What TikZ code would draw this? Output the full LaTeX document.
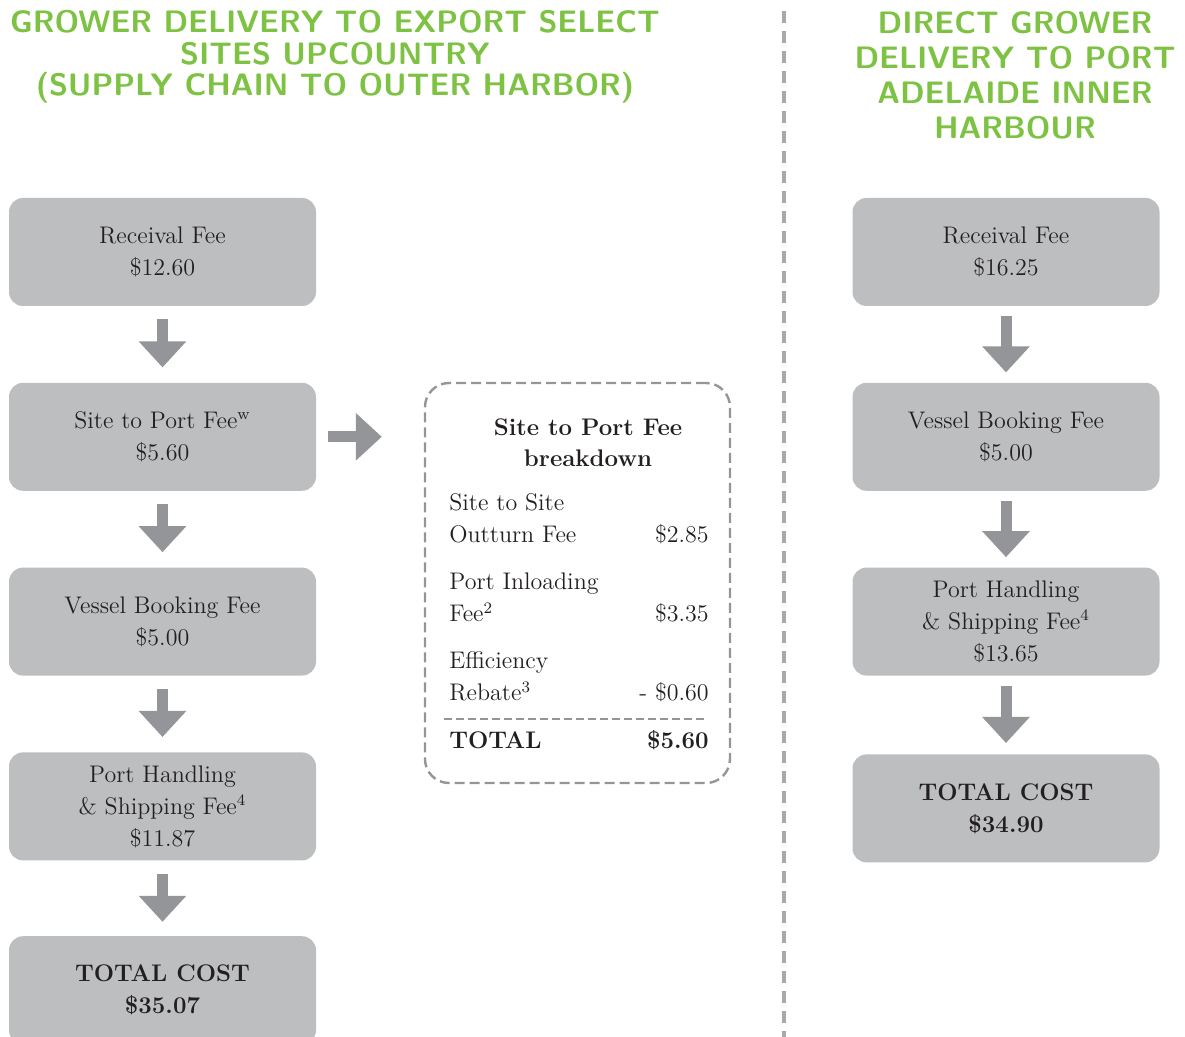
\documentclass[tikz,border=0pt]{standalone}
\usepackage{xcolor}
\definecolor{headGreen}{HTML}{7DC242}
\definecolor{boxGrey}{HTML}{BCBEC0}
\definecolor{arrowGrey}{HTML}{939598}
\definecolor{lineGrey}{HTML}{A7A9AC}
\definecolor{textDark}{HTML}{231F20}
\usepackage{tikz}
\usetikzlibrary{positioning,arrows.meta}
\tikzset{%
  feeBox/.style={%
    rectangle,
    rounded corners=7pt,
    fill=boxGrey,
    text=textDark,
    minimum width=153.5pt,
    minimum height=54pt,
    align=center,
    font=\fontsize{12}{16}\selectfont
  },
  flowArrow/.style={%
    -{Triangle[width=23pt,length=13pt]},
    line width=5.5pt,
    color=arrowGrey
  },
  headingText/.style={%
    text=headGreen,
    align=center,
    inner sep=0pt
  },
  breakdownBox/.style={%
    rectangle,
    rounded corners=12pt,
    draw=arrowGrey,
    line width=1.2pt,
    dash pattern=on 5pt off 2.5pt,
    minimum width=152.5pt,
    minimum height=200pt
  },
  itemLeft/.style={%
    anchor=west,
    inner sep=0pt,
    text=textDark,
    text height=8.5pt,
    text depth=2.5pt,
    font=\fontsize{12}{16}\selectfont
  },
  itemRight/.style={%
    itemLeft,
    anchor=east
  },
  sepLine/.style={%
    draw=arrowGrey,
    line width=1pt,
    dash pattern=on 4pt off 2pt
  },
  divider/.style={%
    draw=lineGrey,
    line width=2pt,
    dash pattern=on 6pt off 4pt
  }
}

\begin{document}
\begin{tikzpicture}[x=0.5pt,y=-0.5pt]
  \useasboundingbox (0,0) rectangle (1185,1037);

  % headings
  \node[headingText, font=\sffamily\bfseries\fontsize{15.5}{15.75}\selectfont] (headA) at (335,57)
    {GROWER DELIVERY TO EXPORT SELECT\\SITES UPCOUNTRY\\(SUPPLY CHAIN TO OUTER HARBOR)};
  \node[headingText, font=\sffamily\bfseries\fontsize{15.5}{17.5}\selectfont] (headB) at (1015,75.5)
    {DIRECT GROWER\\DELIVERY TO PORT\\ADELAIDE INNER\\HARBOUR};

  % divider
  \coordinate (divTop) at (784,11);
  \coordinate (divBot) at (784,1037);
  \draw[divider] (divTop) -- (divBot);

  % left column
  \node[feeBox] (recvA) at (162.5,252) {Receival Fee\\\$12.60};
  \node[feeBox, below=38pt of recvA] (siteA) {Site to Port Fee\textsuperscript{w}\\\$5.60};
  \node[feeBox, below=38pt of siteA] (vesselA) {Vessel Booking Fee\\\$5.00};
  \node[feeBox, below=38pt of vesselA] (portA) {Port Handling\\\& Shipping Fee\textsuperscript{4}\\\$11.87};
  \node[feeBox, below=37.5pt of portA, font=\bfseries\fontsize{12}{16}\selectfont] (totalA) {TOTAL COST\\\$35.07};

  \draw[flowArrow, shorten <=6.5pt, shorten >=7.5pt] (recvA) -- (siteA);
  \draw[flowArrow, shorten <=6.5pt, shorten >=7.5pt] (siteA) -- (vesselA);
  \draw[flowArrow, shorten <=6.5pt, shorten >=7.5pt] (vesselA) -- (portA);
  \draw[flowArrow, shorten <=6.5pt, shorten >=7pt] (portA) -- (totalA);

  % breakdown of site to port fee
  \node[breakdownBox] (brk) at (577.5,583) {};
  \draw[flowArrow, shorten <=6pt, shorten >=21pt] (siteA) -- (siteA -| brk.west);

  \node[align=center, text=textDark, inner sep=0pt, font=\bfseries\fontsize{12}{15.5}\selectfont] (brkTitle) at (588,442.5)
    {Site to Port Fee\\breakdown};
  \node[itemLeft] (outA) at (449,505) {Site to Site};
  \node[itemLeft] (outB) at (449,537) {Outturn Fee};
  \node[itemRight] (outVal) at (709,537) {\$2.85};
  \node[itemLeft] (inA) at (449,584) {Port Inloading};
  \node[itemLeft] (inB) at (449,616) {Fee\textsuperscript{2}};
  \node[itemRight] (inVal) at (709,616) {\$3.35};
  \node[itemLeft] (effA) at (449,663) {Efficiency};
  \node[itemLeft] (effB) at (449,695) {Rebate\textsuperscript{3}};
  \node[itemRight] (effVal) at (709,695) {- \$0.60};
  \coordinate (sepL) at (444,719);
  \coordinate (sepR) at (706,719);
  \draw[sepLine] (sepL) -- (sepR);
  \node[itemLeft, font=\bfseries\fontsize{12}{16}\selectfont] (totB) at (449,742) {TOTAL};
  \node[itemRight, font=\bfseries\fontsize{12}{16}\selectfont] (totVal) at (709,742) {\$5.60};

  % right column
  \node[feeBox] (recvB) at (1006,252) {Receival Fee\\\$16.25};
  \node[feeBox, below=38pt of recvB] (vesselB) {Vessel Booking Fee\\\$5.00};
  \node[feeBox, below=38pt of vesselB] (portB) {Port Handling\\\& Shipping Fee\textsuperscript{4}\\\$13.65};
  \node[feeBox, below=39pt of portB, font=\bfseries\fontsize{12}{16}\selectfont] (totalB) {TOTAL COST\\\$34.90};

  \draw[flowArrow, shorten <=5pt, shorten >=5pt] (recvB) -- (vesselB);
  \draw[flowArrow, shorten <=5pt, shorten >=5pt] (vesselB) -- (portB);
  \draw[flowArrow, shorten <=5pt, shorten >=5.5pt] (portB) -- (totalB);
\end{tikzpicture}
\end{document}
